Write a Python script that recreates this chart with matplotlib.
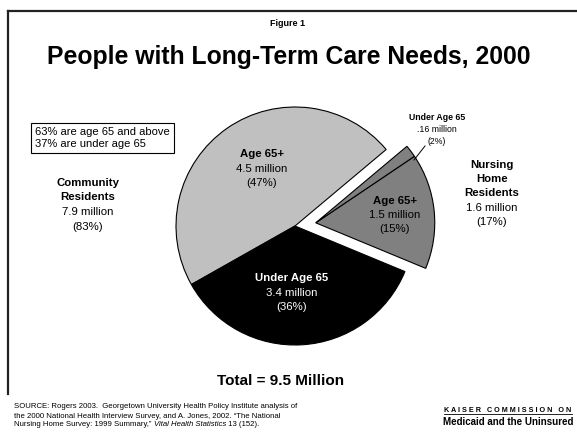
import matplotlib
matplotlib.use("Agg")
import matplotlib.pyplot as plt
import numpy as np
from matplotlib.lines import Line2D

plt.rcParams['font.family'] = ['Liberation Sans', 'DejaVu Sans']

# ---- data ----
segments = ["Community Age 65+", "Community Under Age 65", "Nursing Home Age 65+", "Nursing Home Under Age 65"]
values_million = [4.5, 3.4, 1.5, 0.16]
percent_labels = ["(47%)", "(36%)", "(15%)", "(2%)"]
value_labels = ["4.5 million", "3.4 million", "1.5 million", ".16 million"]
group_labels = ["Community\nResidents", "Nursing\nHome\nResidents"]
group_values_num = [7.9, 1.6]
group_values = ["7.9 million\n(83%)", "1.6 million\n(17%)"]
colors = ["#c0c0c0", "#000000", "#808080", "#808080"]

W, H = 577, 432
fig = plt.figure(figsize=(W / 100, H / 100), dpi=100)
ax = fig.add_axes([0, 0, 1, 1])

def Y(py):
    return H - py

cx, cy, r = 295, Y(226), 119
wedges, _ = ax.pie(values_million, colors=colors, startangle=40, counterclock=True,
                   center=(cx, cy), radius=r,
                   wedgeprops=dict(edgecolor="black", linewidth=0.8))
# explode the nursing-home group together along its mid-angle
a0 = wedges[2].theta1
a1 = wedges[3].theta2
mid = np.deg2rad((a0 + a1) / 2)
dist = 21
for w in wedges[2:]:
    w.set_center((cx + dist * np.cos(mid), cy + dist * np.sin(mid)))

ax.set_xlim(0, W)
ax.set_ylim(0, H)
ax.set_aspect("equal")
ax.axis("off")

# frame lines
ax.add_line(Line2D([8, W], [Y(11), Y(11)], color="#222222", lw=1.6))
ax.add_line(Line2D([8, 8], [Y(11), Y(394)], color="#222222", lw=1.6))

# titles
ax.text(288, Y(24), "Figure 1", ha="center", va="center", fontsize=6.5, fontweight="bold")
ax.text(289, Y(57), "People with Long-Term Care Needs, 2000", ha="center", va="center",
        fontsize=17.8, fontweight="bold")

# note box
ax.text(35, Y(138), "63% are age 65 and above\n37% are under age 65", ha="left", va="center",
        fontsize=8.0, linespacing=1.35,
        bbox=dict(boxstyle="square,pad=0.35", facecolor="white", edgecolor="black", linewidth=0.8))

def label(x, y_top, bold, rest, fs=8.2, color="black", step=14.5):
    lines_b = bold.split("\n")
    for i, t in enumerate(lines_b):
        ax.text(x, Y(y_top + i * step), t, ha="center", va="center", fontsize=fs,
                fontweight="bold", color=color)
    for j, t in enumerate(rest.split("\n")):
        ax.text(x, Y(y_top + (len(lines_b) + j) * step), t, ha="center", va="center",
                fontsize=fs, color=color)

label(88, 183, group_labels[0], group_values[0])
label(262, 154, "Age 65+", value_labels[0] + "\n" + percent_labels[0])
label(292, 278, "Under Age 65", value_labels[1] + "\n" + percent_labels[1], color="white")
label(395, 201, "Age 65+", value_labels[2] + "\n" + percent_labels[2], step=14)
label(437, 117, "Under Age 65", value_labels[3] + "\n" + percent_labels[3], fs=6.3, step=12)
label(492, 165, group_labels[1], group_values[1], step=14.2)

# leader line for small slice
ax.add_line(Line2D([425, 414], [Y(146), Y(160)], color="black", lw=0.7))

total = sum(group_values_num)
ax.text(281, Y(381), f"Total = {total:.1f} Million", ha="center", va="center",
        fontsize=11, fontweight="bold")

# source
src_fs = 5.6
ax.text(14, Y(407), "SOURCE: Rogers 2003.  Georgetown University Health Policy Institute analysis of",
        ha="left", va="center", fontsize=src_fs)
ax.text(14, Y(416), "the 2000 National Health Interview Survey, and A. Jones, 2002. \u201cThe National",
        ha="left", va="center", fontsize=src_fs)
t3 = ax.text(14, Y(425), "Nursing Home Survey: 1999 Summary,\u201d ", ha="left", va="center", fontsize=src_fs)
fig.canvas.draw()
bb = t3.get_window_extent()
t4 = ax.text(bb.x1, Y(425), "Vital Health Statistics", ha="left", va="center", fontsize=src_fs, style="italic")
fig.canvas.draw()
bb4 = t4.get_window_extent()
ax.text(bb4.x1, Y(425), " 13 (152).", ha="left", va="center", fontsize=src_fs)

# Kaiser logo text
k = ax.text(508, Y(410), "K A I S E R   C O M M I S S I O N   O N", ha="center", va="center",
            fontsize=5.2, fontweight="bold")
fig.canvas.draw()
kb = k.get_window_extent()
ax.add_line(Line2D([kb.x0, kb.x1], [kb.y0 - 0.5, kb.y0 - 0.5], color="black", lw=0.6))
ax.text(508, Y(422), "Medicaid and the Uninsured", ha="center", va="center",
        fontsize=7.0, fontweight="heavy")

fig.savefig("out.png", dpi=100)
